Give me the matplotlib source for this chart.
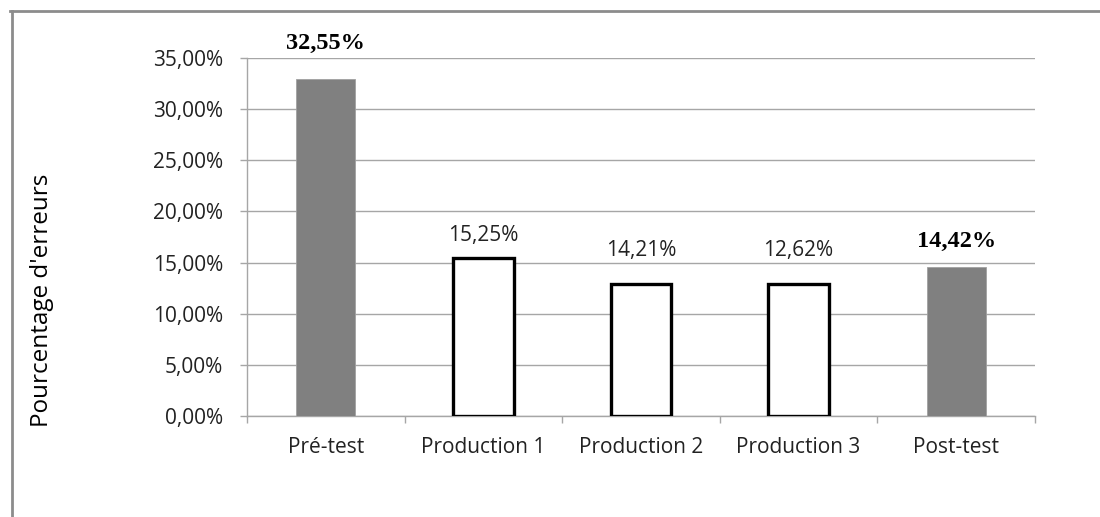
import matplotlib
matplotlib.use("Agg")
import matplotlib.pyplot as plt
from matplotlib.lines import Line2D
from matplotlib.ticker import FuncFormatter, FixedLocator

categories = ["Pré-test", "Production 1", "Production 2", "Production 3", "Post-test"]
values = [32.9, 15.45, 12.9, 12.9, 14.6]
value_labels = ["32,55%", "15,25%", "14,21%", "12,62%", "14,42%"]
is_test = [True, False, False, False, True]
label_offsets_pt = [26, 16, 24, 24, 18]

fig = plt.figure(figsize=(11, 5.17), dpi=100)
ax = fig.add_axes([0.2245, 0.1954, 0.7164, 0.6924])

x = list(range(len(categories)))
for xi, v, t in zip(x, values, is_test):
    if t:
        ax.bar(xi, v, width=0.375, color="#808080", edgecolor="#a0a0a0", linewidth=0.6, zorder=3)
    else:
        ax.bar(xi, v, width=0.385, color="white", edgecolor="black", linewidth=2.4, zorder=3)

for xi, v, lab, t, off in zip(x, values, value_labels, is_test, label_offsets_pt):
    if t:
        ax.annotate(lab, (xi, v), xytext=(0, off), textcoords="offset points",
                    ha="center", va="center", fontsize=17.5, fontweight="bold",
                    family="Liberation Serif", color="black")
    else:
        ax.annotate(lab, (xi, v), xytext=(0, off), textcoords="offset points",
                    ha="center", va="center", fontsize=15,
                    family="Open Sans", color="#222222")

ax.set_xlim(-0.5, len(categories) - 0.5)
ax.set_ylim(0, 35)
ax.yaxis.set_major_locator(FixedLocator([0, 5, 10, 15, 20, 25, 30, 35]))
ax.yaxis.set_major_formatter(FuncFormatter(lambda v, p: f"{v:.2f}%".replace(".", ",")))
ax.set_xticks(x)
ax.set_xticklabels(categories)
ax.set_xticks([i - 0.5 for i in range(len(categories) + 1)], minor=True)

ax.grid(axis="y", color="#a6a6a6", linewidth=1.0, zorder=0)
ax.set_axisbelow(True)
for s in ["top", "right"]:
    ax.spines[s].set_visible(False)
for s in ["left", "bottom"]:
    ax.spines[s].set_color("#a6a6a6")
    ax.spines[s].set_linewidth(1.0)

ax.tick_params(axis="y", length=5, width=1, color="#a6a6a6", pad=12,
               labelsize=15, labelcolor="#222222")
ax.tick_params(axis="x", which="major", length=0, pad=15, labelsize=15, labelcolor="#222222")
ax.tick_params(axis="x", which="minor", length=5, width=1, color="#a6a6a6")
for lab in ax.get_xticklabels() + ax.get_yticklabels():
    lab.set_family("Open Sans")

fig.text(0.038, 0.42, "Pourcentage d'erreurs", rotation=90, ha="center", va="center",
         fontsize=17.5, family="Open Sans", color="black")

fig.add_artist(Line2D([0.0105, 0.0105], [0.0, 0.979], transform=fig.transFigure,
                      color="#8c8c8c", linewidth=2))
fig.add_artist(Line2D([0.0095, 1.0], [0.979, 0.979], transform=fig.transFigure,
                      color="#8c8c8c", linewidth=2))

fig.savefig("out.png", dpi=100)
